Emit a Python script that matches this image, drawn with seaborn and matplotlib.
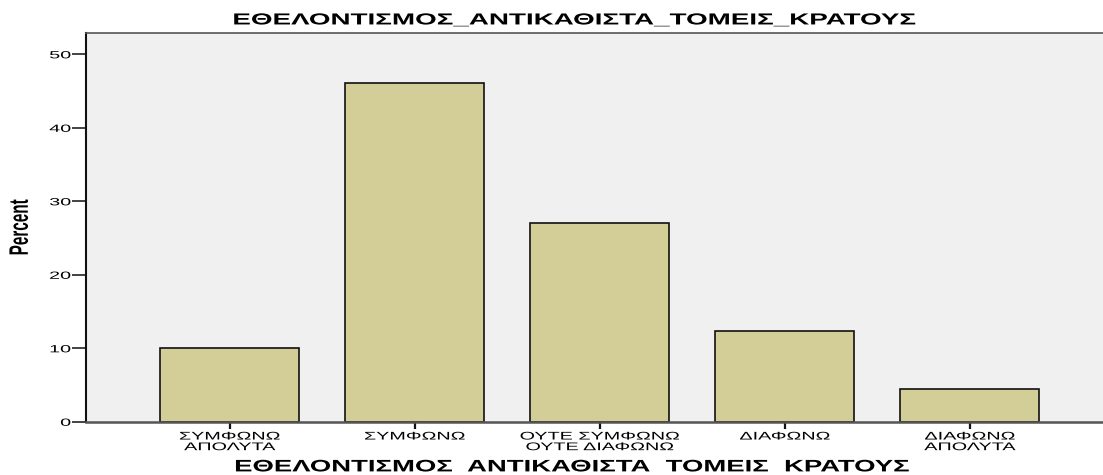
import matplotlib
matplotlib.use("Agg")
import matplotlib.pyplot as plt
from matplotlib.patheffects import AbstractPathEffect
from matplotlib.transforms import Affine2D
import seaborn as sns
import pandas as pd

categories = ["ΣΥΜΦΩΝΩ\nΑΠΟΛΥΤΑ", "ΣΥΜΦΩΝΩ", "ΟΥΤΕ ΣΥΜΦΩΝΩ\nΟΥΤΕ ΔΙΑΦΩΝΩ", "ΔΙΑΦΩΝΩ", "ΔΙΑΦΩΝΩ\nΑΠΟΛΥΤΑ"]
percent = [10.0, 46.1, 27.0, 12.3, 4.5]
yticks = [0, 10, 20, 30, 40, 50]
title = "ΕΘΕΛΟΝΤΙΣΜΟΣ_ΑΝΤΙΚΑΘΙΣΤΑ_ΤΟΜΕΙΣ_ΚΡΑΤΟΥΣ"
xlabel = "ΕΘΕΛΟΝΤΙΣΜΟΣ  ΑΝΤΙΚΑΘΙΣΤΑ  ΤΟΜΕΙΣ  ΚΡΑΤΟΥΣ"
ylabel = "Percent"


class HStretch(AbstractPathEffect):
    """Stretch rendered glyphs horizontally (text stays a Text artist)."""

    def __init__(self, sx=1.75, anchor="center"):
        super().__init__()
        self.sx = sx
        self.anchor = anchor

    def draw_path(self, renderer, gc, tpath, affine, rgbFace=None):
        ext = tpath.get_extents(affine)
        if self.anchor == "right":
            x0 = ext.x1
        elif self.anchor == "left":
            x0 = ext.x0
        else:
            x0 = 0.5 * (ext.x0 + ext.x1)
        extra = Affine2D().translate(-x0, 0).scale(self.sx, 1.0).translate(x0, 0)
        renderer.draw_path(gc, tpath, affine + extra, rgbFace)


sns.set_style("white")
plt.rcParams["font.family"] = ["Liberation Sans", "DejaVu Sans"]
plt.rcParams["text.color"] = "black"
plt.rcParams["xtick.color"] = "black"
plt.rcParams["ytick.color"] = "black"

df = pd.DataFrame({"cat": categories, "pct": percent})

fig = plt.figure(figsize=(11.03, 4.75), dpi=100)
ax = fig.add_axes([0.078, 0.112, 0.922, 0.8185])
ax.set_facecolor("#F0F0F0")

sns.barplot(data=df, x="cat", y="pct", ax=ax, color="#D3CE97", saturation=1,
            width=0.75, edgecolor="#111111", linewidth=1.2)

ax.set_xlim(-0.776, 4.72)
ax.set_ylim(0, 52.9)
ax.set_yticks(yticks)
ax.set_yticklabels([str(t) for t in yticks], fontsize=7.5)
ax.tick_params(axis="y", direction="out", length=10, width=1.2, color="#222222", pad=1, left=True)
ax.tick_params(axis="x", direction="out", length=5, width=1.6, color="#111111", pad=2, bottom=True)
for lbl in ax.get_xticklabels():
    lbl.set_fontsize(8)
    lbl.set_linespacing(1.08)
    lbl.set_color("black")
    lbl.set_path_effects([HStretch(1.78, "center")])
for lbl in ax.get_yticklabels():
    lbl.set_color("black")
    lbl.set_path_effects([HStretch(1.9, "right")])

for s in ["left", "bottom", "top"]:
    ax.spines[s].set_visible(True)
ax.spines["right"].set_visible(False)
ax.spines["left"].set_color("#111111")
ax.spines["left"].set_linewidth(1.5)
ax.spines["bottom"].set_color("#555555")
ax.spines["bottom"].set_linewidth(1.8)
ax.spines["top"].set_color("#555555")
ax.spines["top"].set_linewidth(1.2)

ax.set_xlabel(xlabel, fontsize=12, fontweight="bold", va="center", color="black",
              path_effects=[HStretch(1.65, "center")])
ax.xaxis.set_label_coords(0.477, -0.116)
ax.set_ylabel(ylabel, fontsize=11, fontweight="bold", va="center", color="black",
              path_effects=[HStretch(1.75, "center")])
ax.yaxis.set_label_coords(-0.065, 0.5)

fig.text(0.521, 0.958, title, ha="center", va="center", fontsize=11.5,
         fontweight="bold", color="black", path_effects=[HStretch(1.74, "center")])

fig.savefig("out.png", dpi=100, facecolor="white")
